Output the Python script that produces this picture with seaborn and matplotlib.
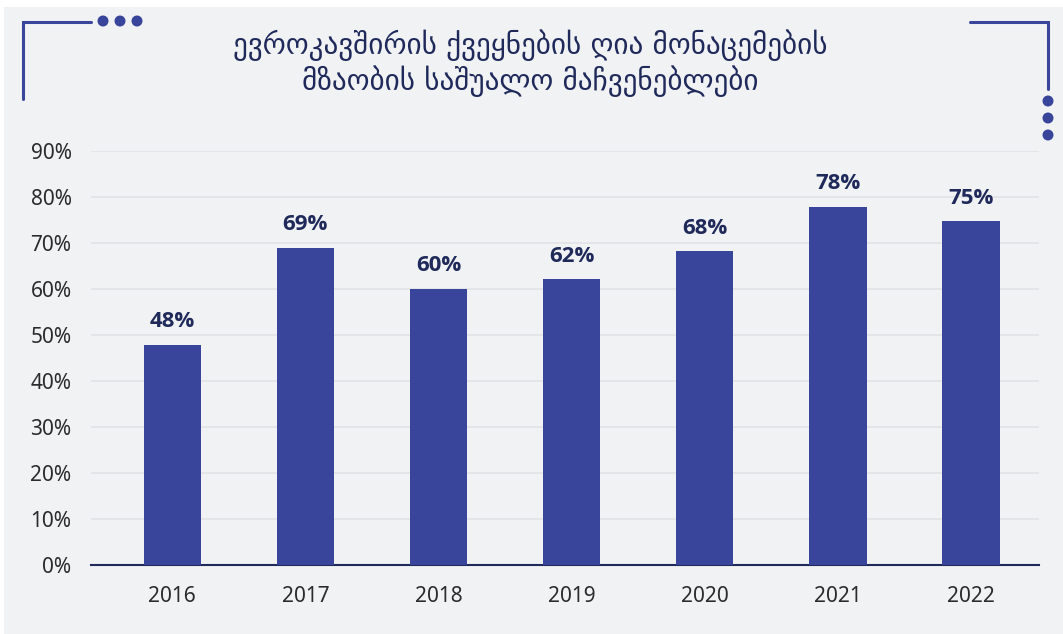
import matplotlib
matplotlib.use("Agg")
import matplotlib.pyplot as plt
import numpy as np
import pandas as pd
import seaborn as sns
from matplotlib.patches import Rectangle, Ellipse
from matplotlib.lines import Line2D

# data
years = ["2016", "2017", "2018", "2019", "2020", "2021", "2022"]
readiness = [47.9, 69.0, 60.1, 62.1, 68.2, 77.9, 74.7]
y_ticks = [0, 10, 20, 30, 40, 50, 60, 70, 80, 90]
title_lines = ["ევროკავშირის ქვეყნების ღია მონაცემების", "მზაობის საშუალო მაჩვენებლები"]

bar_color = "#38459a"
navy = "#1f2a5a"
panel_bg = "#f1f2f4"

W, H = 1063, 634

sns.set_theme(style="white")
plt.rcParams["font.family"] = ["Noto Sans", "DejaVu Sans"]

fig = plt.figure(figsize=(W / 100, H / 100), dpi=100)
fig.patch.set_facecolor("white")
fig.add_artist(Rectangle((4 / W, 0), 1 - 4 / W, 1 - 7 / H, transform=fig.transFigure,
                         facecolor=panel_bg, edgecolor="none", zorder=-10))

ax = fig.add_axes([91 / W, 1 - 565 / H, (1039 - 91) / W, (565 - 151) / H])
ax.set_facecolor("none")

df = pd.DataFrame({"year": years, "value": readiness})
sns.barplot(data=df, x="year", y="value", color=bar_color, saturation=1, width=0.43,
            linewidth=0, ax=ax, zorder=3)

# value labels above the bars
for i, v in enumerate(readiness):
    ax.text(i, v + 2.7, f"{round(v)}%", ha="center", va="bottom", fontsize=16,
            fontweight="bold", color=navy, zorder=4, family=["Open Sans", "DejaVu Sans"])

ax.set_xlim(-0.61, 6.51)
ax.set_ylim(0, 90)
ax.set_yticks(y_ticks)
ax.set_yticklabels([f"{t}%" for t in y_ticks])
ax.yaxis.grid(True, color="#e2e3e7", linewidth=1.2, zorder=0)
ax.set_axisbelow(True)
ax.set_xlabel("")
ax.set_ylabel("")
for s in ["top", "right", "left"]:
    ax.spines[s].set_visible(False)
ax.spines["bottom"].set_color(navy)
ax.spines["bottom"].set_linewidth(1.5)
ax.tick_params(axis="y", length=0, pad=14, labelsize=15, labelcolor="#2b2b2b")
ax.tick_params(axis="x", length=0, pad=15, labelsize=15, labelcolor="#2b2b2b")

# title, two centred lines
for k, line in enumerate(title_lines):
    fig.text(530 / W, 1 - (45 + 36 * k) / H, line, ha="center", va="center",
             fontsize=21, color=navy, family=["DejaVu Sans", "Noto Sans"])

# corner decorations
lw = 2.2
for (xs, ys) in [([23, 23, 91], [99, 22, 22]), ([970, 1048, 1048], [22, 22, 89])]:
    fx = [x / W for x in xs]
    fy = [1 - y / H for y in ys]
    fig.add_artist(Line2D(fx, fy, color=bar_color, linewidth=lw, solid_joinstyle="miter"))

r = 5.5
for (cx, cy) in [(103, 21), (120, 21), (137, 21), (1048, 101), (1048, 118), (1048, 135)]:
    fig.add_artist(Ellipse((cx / W, 1 - cy / H), 2 * r / W, 2 * r / H, transform=fig.transFigure,
                           facecolor=bar_color, edgecolor="none"))

fig.savefig("out.png", dpi=100)
